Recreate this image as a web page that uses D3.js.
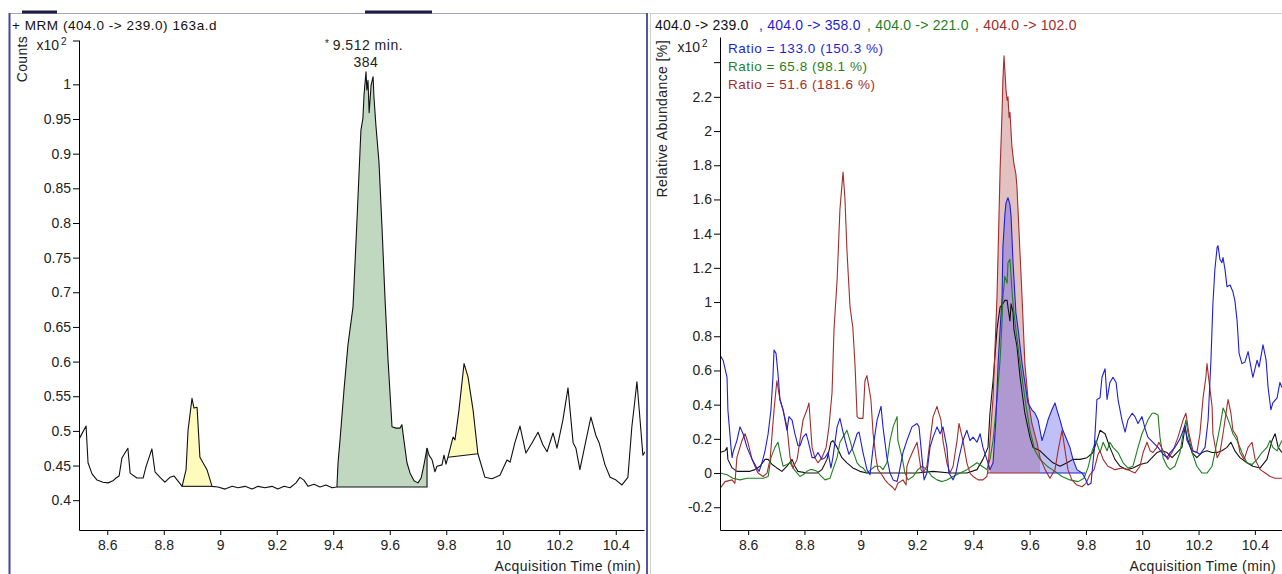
<!DOCTYPE html>
<html>
<head>
<meta charset="utf-8">
<script src="https://cdn.jsdelivr.net/npm/d3@7"></script>
<style>
  body { margin: 0; background: #fff; }
  svg { display: block; }
  text { font-family: Arial, "Liberation Sans", sans-serif; }
</style>
</head>
<body>
<svg id="chart" width="1282" height="574"></svg>
<script>
// ---- Quantifier trace, MRM 404.0 -> 239.0 (counts, x10^2) : [time (min), counts] ----
const mrm239 = [
  [8.500,0.487],[8.504,0.491],[8.525,0.507],[8.532,0.454],[8.546,0.438],[8.564,0.429],[8.585,0.426],
  [8.603,0.425],[8.620,0.428],[8.631,0.432],[8.642,0.435],[8.652,0.461],[8.673,0.475],[8.681,0.439],
  [8.705,0.432],[8.727,0.432],[8.737,0.448],[8.758,0.474],[8.769,0.441],[8.787,0.433],[8.804,0.426],
  [8.822,0.433],[8.836,0.435],[8.850,0.428],[8.865,0.420],[8.879,0.444],[8.886,0.501],[8.900,0.547],
  [8.907,0.533],[8.918,0.534],[8.928,0.462],[8.953,0.444],[8.971,0.420],[8.992,0.419],[9.017,0.416],
  [9.042,0.420],[9.063,0.418],[9.088,0.420],[9.112,0.416],[9.134,0.420],[9.158,0.418],[9.183,0.420],
  [9.204,0.416],[9.226,0.420],[9.247,0.418],[9.268,0.425],[9.282,0.433],[9.296,0.429],[9.311,0.420],
  [9.332,0.423],[9.353,0.419],[9.374,0.422],[9.396,0.418],[9.413,0.419],[9.417,0.454],[9.424,0.487],
  [9.438,0.559],[9.452,0.624],[9.470,0.679],[9.484,0.804],[9.498,0.934],[9.505,0.951],[9.509,0.985],
  [9.516,1.018],[9.519,0.992],[9.523,1.006],[9.527,0.959],[9.534,0.999],[9.541,1.011],[9.544,0.982],
  [9.551,0.941],[9.562,0.887],[9.573,0.790],[9.583,0.693],[9.594,0.602],[9.608,0.506],[9.622,0.504],
  [9.636,0.504],[9.643,0.509],[9.650,0.487],[9.661,0.454],[9.672,0.439],[9.686,0.428],[9.700,0.425],
  [9.711,0.432],[9.721,0.451],[9.732,0.475],[9.739,0.465],[9.750,0.458],[9.760,0.441],[9.767,0.449],
  [9.785,0.451],[9.792,0.465],[9.799,0.452],[9.806,0.462],[9.824,0.491],[9.831,0.487],[9.845,0.530],
  [9.863,0.597],[9.877,0.578],[9.895,0.530],[9.912,0.467],[9.937,0.433],[9.962,0.431],[9.990,0.436],
  [10.015,0.458],[10.026,0.455],[10.043,0.483],[10.061,0.507],[10.082,0.468],[10.104,0.483],[10.125,0.498],
  [10.142,0.480],[10.157,0.470],[10.178,0.497],[10.192,0.475],[10.213,0.516],[10.231,0.562],[10.249,0.483],
  [10.259,0.475],[10.273,0.444],[10.295,0.487],[10.312,0.520],[10.330,0.493],[10.341,0.483],[10.362,0.451],
  [10.380,0.433],[10.401,0.429],[10.422,0.422],[10.443,0.433],[10.457,0.506],[10.468,0.545],[10.475,0.571],
  [10.486,0.516],[10.496,0.465],[10.504,0.470]
];

// Integrated peaks on the quantifier: [start, end, baseline at start, baseline at end]
const mainPeak = [9.413, 9.732, 0.419, 0.419];
const sidePeaks = [
  [8.865, 8.971, 0.420, 0.420],
  [9.806, 9.912, 0.462, 0.467]
];
const mainPeakTime = "9.512 min.";
const mainPeakArea = "384";

// ---- Overlaid transitions, relative abundance (%, x10^2) : [time (min), abundance] ----
const rel239 = [
  [8.500,0.12],[8.518,0.13],[8.525,0.15],[8.528,0.08],[8.543,0.03],[8.560,0.01],[8.582,0.01],[8.607,0.01],
  [8.624,0.02],[8.642,0.04],[8.660,0.08],[8.671,0.08],[8.685,0.05],[8.702,0.03],[8.720,0.01],[8.738,0.04],
  [8.756,0.08],[8.766,0.04],[8.777,0.01],[8.809,0.00],[8.845,0.00],[8.862,0.02],[8.880,0.08],[8.894,0.18],
  [8.901,0.19],[8.916,0.15],[8.933,0.09],[8.951,0.06],[8.972,0.03],[8.997,0.01],[9.022,0.00],[9.079,0.00],
  [9.139,0.00],[9.200,0.00],[9.257,0.01],[9.317,0.00],[9.377,0.00],[9.413,0.02],[9.434,0.08],[9.452,0.15],
  [9.459,0.35],[9.470,0.54],[9.484,0.84],[9.495,0.97],[9.505,0.99],[9.512,1.01],[9.520,1.01],[9.523,0.97],
  [9.530,0.89],[9.534,0.99],[9.541,0.94],[9.544,0.84],[9.555,0.74],[9.566,0.56],[9.583,0.35],[9.601,0.21],
  [9.612,0.15],[9.637,0.13],[9.662,0.09],[9.683,0.06],[9.708,0.04],[9.733,0.06],[9.754,0.08],[9.779,0.08],
  [9.804,0.09],[9.825,0.12],[9.839,0.19],[9.850,0.25],[9.868,0.23],[9.885,0.15],[9.903,0.08],[9.921,0.04],
  [9.946,0.02],[9.967,0.03],[9.992,0.05],[10.017,0.06],[10.035,0.09],[10.052,0.12],[10.070,0.13],[10.088,0.12],
  [10.106,0.09],[10.123,0.12],[10.141,0.15],[10.152,0.27],[10.159,0.21],[10.177,0.12],[10.194,0.09],[10.212,0.12],
  [10.230,0.13],[10.248,0.12],[10.266,0.12],[10.283,0.13],[10.301,0.15],[10.315,0.18],[10.329,0.13],[10.347,0.09],
  [10.372,0.06],[10.393,0.04],[10.419,0.03],[10.443,0.08],[10.461,0.19],[10.472,0.23],[10.483,0.15],[10.496,0.12]
];

const rel358 = [
  [8.500,0.69],[8.511,0.66],[8.525,0.56],[8.528,0.37],[8.539,0.15],[8.543,0.09],[8.546,0.12],[8.560,0.19],
  [8.571,0.27],[8.582,0.23],[8.596,0.15],[8.614,0.08],[8.631,0.03],[8.639,0.01],[8.649,0.06],[8.660,0.13],
  [8.671,0.23],[8.681,0.37],[8.688,0.56],[8.692,0.72],[8.699,0.70],[8.706,0.58],[8.713,0.43],[8.724,0.37],
  [8.738,0.25],[8.745,0.33],[8.756,0.31],[8.766,0.23],[8.777,0.16],[8.784,0.16],[8.795,0.21],[8.806,0.23],
  [8.813,0.19],[8.827,0.09],[8.837,0.09],[8.848,0.12],[8.862,0.08],[8.873,0.09],[8.884,0.12],[8.894,0.03],
  [8.901,0.09],[8.916,0.27],[8.926,0.32],[8.937,0.24],[8.951,0.15],[8.958,0.11],[8.972,0.15],[8.987,0.23],
  [8.994,0.24],[9.008,0.12],[9.022,0.02],[9.033,-0.01],[9.044,0.15],[9.058,0.31],[9.072,0.39],[9.079,0.27],
  [9.093,0.09],[9.104,0.00],[9.115,-0.04],[9.129,-0.05],[9.136,0.00],[9.150,0.12],[9.164,0.19],[9.182,0.27],
  [9.200,0.29],[9.207,0.27],[9.218,0.08],[9.225,-0.04],[9.235,0.00],[9.246,0.15],[9.257,0.21],[9.271,0.27],
  [9.282,0.23],[9.292,0.27],[9.306,0.15],[9.313,0.00],[9.328,-0.04],[9.338,0.00],[9.349,0.09],[9.363,0.19],
  [9.377,0.25],[9.388,0.19],[9.399,0.21],[9.413,0.18],[9.424,0.23],[9.434,0.15],[9.448,0.08],[9.459,0.02],
  [9.470,0.06],[9.480,0.31],[9.488,0.64],[9.495,0.84],[9.502,1.03],[9.505,1.32],[9.512,1.51],[9.516,1.58],
  [9.523,1.61],[9.530,1.57],[9.534,1.50],[9.541,1.23],[9.551,0.94],[9.559,0.84],[9.573,0.64],[9.583,0.53],
  [9.594,0.41],[9.608,0.37],[9.619,0.35],[9.630,0.31],[9.644,0.19],[9.655,0.25],[9.665,0.31],[9.679,0.37],
  [9.690,0.41],[9.697,0.37],[9.708,0.31],[9.718,0.25],[9.733,0.19],[9.743,0.15],[9.754,0.08],[9.768,0.02],
  [9.786,0.00],[9.797,-0.03],[9.807,-0.07],[9.818,-0.06],[9.829,0.13],[9.839,0.43],[9.850,0.44],[9.857,0.56],
  [9.868,0.61],[9.875,0.43],[9.885,0.53],[9.896,0.56],[9.907,0.53],[9.914,0.43],[9.928,0.31],[9.939,0.24],
  [9.949,0.31],[9.964,0.35],[9.974,0.33],[9.985,0.29],[9.999,0.33],[10.010,0.26],[10.020,0.21],[10.038,0.18],
  [10.056,0.15],[10.074,0.11],[10.088,0.09],[10.099,0.12],[10.116,0.15],[10.134,0.20],[10.152,0.28],[10.159,0.19],
  [10.177,0.13],[10.194,0.12],[10.205,0.11],[10.223,0.15],[10.234,0.31],[10.244,0.66],[10.251,0.99],[10.258,1.19],
  [10.266,1.32],[10.269,1.33],[10.276,1.25],[10.283,1.23],[10.287,1.26],[10.294,1.19],[10.301,1.09],[10.312,1.10],
  [10.322,1.06],[10.329,1.01],[10.337,0.89],[10.344,0.70],[10.354,0.64],[10.365,0.65],[10.376,0.71],[10.386,0.62],
  [10.393,0.56],[10.408,0.66],[10.415,0.62],[10.429,0.75],[10.440,0.66],[10.447,0.50],[10.457,0.37],[10.464,0.41],
  [10.479,0.44],[10.489,0.53],[10.496,0.50]
];

const rel221 = [
  [8.500,0.00],[8.525,-0.01],[8.546,-0.03],[8.571,-0.04],[8.596,-0.03],[8.617,-0.03],[8.653,-0.03],[8.671,-0.02],
  [8.681,0.09],[8.695,0.15],[8.706,0.18],[8.717,0.09],[8.724,0.04],[8.738,0.05],[8.749,0.06],[8.759,0.03],
  [8.774,0.00],[8.784,-0.02],[8.795,-0.01],[8.809,0.01],[8.820,0.02],[8.830,0.02],[8.845,0.01],[8.855,-0.01],
  [8.873,-0.04],[8.891,-0.03],[8.901,0.02],[8.916,0.09],[8.926,0.18],[8.937,0.21],[8.951,0.25],[8.962,0.19],
  [8.972,0.13],[8.987,0.06],[8.997,0.04],[9.008,0.03],[9.022,0.00],[9.036,0.02],[9.051,0.04],[9.068,0.04],
  [9.079,0.02],[9.093,0.06],[9.104,0.19],[9.115,0.27],[9.129,0.33],[9.132,0.19],[9.147,0.09],[9.157,0.00],
  [9.168,-0.04],[9.186,-0.02],[9.203,0.02],[9.218,0.04],[9.235,0.02],[9.253,-0.02],[9.271,-0.04],[9.289,-0.05],
  [9.306,-0.04],[9.328,-0.02],[9.353,0.00],[9.377,0.02],[9.395,0.04],[9.413,0.06],[9.431,0.04],[9.448,0.02],
  [9.459,0.08],[9.470,0.19],[9.484,0.43],[9.495,0.66],[9.502,0.89],[9.505,1.03],[9.512,1.15],[9.520,1.11],
  [9.523,1.23],[9.530,1.25],[9.537,1.07],[9.541,0.99],[9.551,0.84],[9.566,0.64],[9.583,0.44],[9.601,0.25],
  [9.619,0.13],[9.637,0.08],[9.662,0.04],[9.690,0.01],[9.715,-0.02],[9.743,-0.04],[9.772,-0.05],[9.793,-0.03],
  [9.807,0.03],[9.822,0.13],[9.836,0.19],[9.850,0.12],[9.861,0.18],[9.875,0.13],[9.885,0.18],[9.896,0.15],
  [9.914,0.12],[9.932,0.06],[9.949,0.03],[9.967,0.04],[9.985,0.15],[9.999,0.23],[10.010,0.27],[10.020,0.31],
  [10.035,0.35],[10.045,0.35],[10.056,0.34],[10.063,0.21],[10.074,0.09],[10.088,0.04],[10.099,0.02],[10.116,0.04],
  [10.134,0.12],[10.145,0.23],[10.155,0.31],[10.163,0.23],[10.177,0.12],[10.194,0.04],[10.212,0.00],[10.230,0.00],
  [10.248,0.04],[10.258,0.12],[10.276,0.27],[10.287,0.38],[10.301,0.33],[10.312,0.28],[10.322,0.23],[10.337,0.19],
  [10.354,0.12],[10.372,0.06],[10.390,0.05],[10.408,0.08],[10.425,0.12],[10.443,0.15],[10.454,0.19],[10.464,0.15],
  [10.479,0.13],[10.496,0.19]
];

const rel102 = [
  [8.500,-0.09],[8.518,-0.05],[8.543,-0.04],[8.553,-0.06],[8.560,0.09],[8.578,0.19],[8.589,0.23],[8.599,0.18],
  [8.614,0.08],[8.624,0.04],[8.635,0.00],[8.653,-0.02],[8.667,0.00],[8.678,0.08],[8.692,0.37],[8.702,0.54],
  [8.713,0.43],[8.724,0.37],[8.738,0.27],[8.749,0.09],[8.759,0.03],[8.774,0.08],[8.784,0.19],[8.795,0.31],
  [8.809,0.37],[8.816,0.41],[8.827,0.15],[8.837,0.09],[8.848,0.06],[8.862,0.09],[8.877,0.15],[8.887,0.27],
  [8.898,0.47],[8.905,0.84],[8.916,1.13],[8.926,1.54],[8.937,1.76],[8.944,1.60],[8.951,1.30],[8.962,0.97],
  [8.972,0.85],[8.980,0.62],[8.987,0.33],[8.994,0.32],[9.008,0.32],[9.015,0.54],[9.022,0.57],[9.026,0.53],
  [9.036,0.43],[9.044,0.23],[9.054,0.09],[9.061,0.02],[9.075,-0.01],[9.086,-0.04],[9.097,-0.06],[9.111,-0.08],
  [9.122,-0.10],[9.132,-0.06],[9.150,-0.04],[9.161,-0.07],[9.164,0.04],[9.175,0.09],[9.186,0.13],[9.200,0.18],
  [9.214,0.02],[9.221,0.00],[9.235,0.04],[9.246,0.19],[9.257,0.33],[9.271,0.39],[9.274,0.37],[9.285,0.31],
  [9.292,0.19],[9.306,0.06],[9.317,0.00],[9.328,0.04],[9.342,0.19],[9.349,0.29],[9.363,0.19],[9.377,0.06],
  [9.388,0.00],[9.399,-0.02],[9.417,-0.04],[9.434,-0.04],[9.448,-0.02],[9.452,0.02],[9.459,0.19],[9.470,0.44],
  [9.484,1.03],[9.495,1.77],[9.502,2.11],[9.505,2.30],[9.509,2.44],[9.516,2.24],[9.520,2.18],[9.523,2.20],
  [9.527,2.08],[9.530,2.11],[9.537,1.91],[9.544,1.81],[9.551,1.75],[9.555,1.67],[9.562,1.42],[9.573,1.03],
  [9.583,0.64],[9.594,0.44],[9.608,0.29],[9.626,0.18],[9.637,0.09],[9.655,0.02],[9.672,-0.03],[9.690,0.02],
  [9.701,0.13],[9.715,0.25],[9.726,0.13],[9.736,0.02],[9.750,-0.04],[9.768,-0.07],[9.786,-0.08],[9.800,-0.06],
  [9.814,-0.01],[9.829,0.02],[9.843,0.11],[9.850,0.13],[9.861,0.08],[9.878,0.04],[9.903,0.02],[9.928,0.03],
  [9.949,0.02],[9.974,0.00],[9.992,0.04],[10.003,0.12],[10.017,0.18],[10.028,0.13],[10.038,0.12],[10.052,0.15],
  [10.059,0.18],[10.074,0.13],[10.091,0.08],[10.109,0.13],[10.127,0.21],[10.145,0.31],[10.155,0.35],[10.166,0.23],
  [10.180,0.13],[10.194,0.12],[10.205,0.23],[10.216,0.44],[10.226,0.56],[10.230,0.64],[10.237,0.54],[10.248,0.39],
  [10.251,0.23],[10.266,0.09],[10.276,0.12],[10.287,0.23],[10.301,0.39],[10.305,0.43],[10.315,0.35],[10.322,0.25],
  [10.337,0.21],[10.347,0.12],[10.362,0.08],[10.376,0.15],[10.390,0.18],[10.401,0.08],[10.419,0.02],[10.437,0.00],
  [10.454,-0.02],[10.472,-0.03],[10.496,-0.03]
];

// Integrated qualifier peaks: [start, end] with a zero baseline
const peak102 = [9.452, 9.637];
const peak358 = [9.459, 9.797];

// Transition labels and qualifier ratios
const transitions = ["404.0 -> 239.0", ", 404.0 -> 358.0", ", 404.0 -> 221.0", ", 404.0 -> 102.0"];
const ratioLabels = ["Ratio = 133.0 (150.3 %)", "Ratio = 65.8 (98.1 %)", "Ratio = 51.6 (181.6 %)"];

// Tick values
const timeTicks = [8.6, 8.8, 9, 9.2, 9.4, 9.6, 9.8, 10, 10.2, 10.4];
const countTicks = [0.4, 0.45, 0.5, 0.55, 0.6, 0.65, 0.7, 0.75, 0.8, 0.85, 0.9, 0.95, 1];
const abundTicks = [-0.2, 0, 0.2, 0.4, 0.6, 0.8, 1, 1.2, 1.4, 1.6, 1.8, 2, 2.2];
const abundExpTick = 2.4;

// ---- drawing ----
const svg = d3.select("#chart");
const COL = { blue: "#1f1fd4", green: "#1f7f1f", red: "#a32c2c", black: "#111" };
const INK = "#222";
const LS = "0.5px";   // slightly wide UI lettering

// scales
const xL = d3.scaleLinear().domain([8.5, 10.5]).range([79, 644]);
const yL = d3.scaleLinear().domain([0.357, 1.064]).range([530, 40]);
const xR = d3.scaleLinear().domain([8.5, 10.5]).range([720, 1283]);
const yR = d3.scaleLinear().domain([-0.333, 2.55]).range([530, 37]);

// panel frames
svg.append("line").attr("x1", 9).attr("x2", 648).attr("y1", 13.5).attr("y2", 13.5)
  .attr("stroke", "#a4a4c4").attr("stroke-width", 1);
svg.append("line").attr("x1", 9.5).attr("x2", 9.5).attr("y1", 13).attr("y2", 574)
  .attr("stroke", "#45459a").attr("stroke-width", 2);
svg.append("line").attr("x1", 647).attr("x2", 647).attr("y1", 13).attr("y2", 574)
  .attr("stroke", "#5555a8").attr("stroke-width", 2);
[[22, 57], [365, 432]].forEach(([a, b]) => {
  svg.append("line").attr("x1", a).attr("x2", b).attr("y1", 12).attr("y2", 12)
    .attr("stroke", "#1c1c44").attr("stroke-width", 3);
});
svg.append("line").attr("x1", 649).attr("x2", 1282).attr("y1", 13.5).attr("y2", 13.5)
  .attr("stroke", "#cfcfcf");
svg.append("line").attr("x1", 650.5).attr("x2", 650.5).attr("y1", 13).attr("y2", 574)
  .attr("stroke", "#cfcfcf");

const defs = svg.append("defs");
defs.append("clipPath").attr("id", "clipL").append("rect")
  .attr("x", 79).attr("y", 38).attr("width", 566).attr("height", 492);
defs.append("clipPath").attr("id", "clipR").append("rect")
  .attr("x", 720).attr("y", 34).attr("width", 562).attr("height", 496);

function styleAxis(g) {
  g.selectAll("text").attr("font-size", 14).attr("fill", INK)
    .attr("font-family", "Arial, 'Liberation Sans', sans-serif");
  g.selectAll("line, path").attr("stroke", "#000");
}
const fmt = d => String(d);

function label(g, x, y, txt, opts = {}) {
  return g.append("text").attr("x", x).attr("y", y)
    .attr("font-size", opts.size || 14)
    .attr("fill", opts.fill || INK)
    .attr("text-anchor", opts.anchor || "start")
    .attr("letter-spacing", opts.ls === undefined ? LS : opts.ls)
    .text(txt);
}

// ---------- left panel ----------
const left = svg.append("g");
label(left, 12, 30, "+ MRM (404.0 -> 239.0) 163a.d", { size: 13.5, fill: "#111", ls: "0.55px" });

const lineL = d3.line().x(d => xL(d[0])).y(d => yL(d[1]));
const plotL = left.append("g").attr("clip-path", "url(#clipL)");

function peakPolygon(trace, s, e, b0, b1) {
  const inside = trace.filter(d => d[0] >= s - 1e-9 && d[0] <= e + 1e-9);
  return [[s, b0], ...inside, [e, b1]];
}

sidePeaks.forEach(p => {
  const poly = peakPolygon(mrm239, p[0], p[1], p[2], p[3]);
  plotL.append("path").attr("d", lineL(poly) + "Z").attr("fill", "#fffbbd").attr("stroke", "none");
  plotL.append("path").attr("d", lineL([[p[0], p[2]], [p[1], p[3]]]))
    .attr("stroke", "#111").attr("stroke-width", 1.1).attr("fill", "none");
});
{
  const p = mainPeak;
  const poly = peakPolygon(mrm239, p[0], p[1], p[2], p[3]);
  plotL.append("path").attr("d", lineL(poly) + "Z").attr("fill", "#c0d8bf").attr("stroke", "none");
  const last = poly[poly.length - 2];
  plotL.append("path").attr("d", lineL([[p[0], p[2]], [p[1], p[3]], last]))
    .attr("stroke", "#111").attr("stroke-width", 1.1).attr("fill", "none");
}
plotL.append("path").attr("d", lineL(mrm239)).attr("fill", "none")
  .attr("stroke", COL.black).attr("stroke-width", 1.1).attr("stroke-linejoin", "round");

// axes
const axL = left.append("g").attr("transform", "translate(79,0)")
  .call(d3.axisLeft(yL).tickValues(countTicks).tickSize(6).tickPadding(2).tickSizeOuter(0).tickFormat(fmt));
styleAxis(axL);
const axLB = left.append("g").attr("transform", "translate(0,530)")
  .call(d3.axisBottom(xL).tickValues(timeTicks).tickSize(5).tickPadding(5).tickSizeOuter(0).tickFormat(fmt));
styleAxis(axLB);

// exponent marker at the top of the count axis
const topL = yL(yL.domain()[1]) + 1;
left.append("line").attr("x1", 73).attr("x2", 79).attr("y1", topL).attr("y2", topL).attr("stroke", "#000");
label(left, 59, 50, "x10", { anchor: "end", ls: 0 });
label(left, 61, 45, "2", { size: 10, ls: 0 });

left.append("text").attr("transform", "translate(27,36) rotate(-90)").attr("text-anchor", "end")
  .attr("font-size", 14).attr("fill", INK).attr("letter-spacing", "0.3px").text("Counts");
label(left, 641, 571, "Acquisition Time (min)", { anchor: "end", ls: "0.4px" });

// apex label
const apexX = xL(9.512);
label(left, apexX - 40, 47, "*", { size: 10, ls: 0 });
label(left, apexX + 3, 50, mainPeakTime, { anchor: "middle" });
label(left, apexX + 1, 67, mainPeakArea, { anchor: "middle" });

// ---------- right panel ----------
const right = svg.append("g");
const headerX = [655, 759, 867, 975];
const headerCol = [COL.black, COL.blue, COL.green, COL.red];
transitions.forEach((t, i) => {
  label(right, headerX[i], 30, t, { fill: headerCol[i], ls: "0.2px" });
});

const lineR = d3.line().x(d => xR(d[0])).y(d => yR(d[1]));
const plotR = right.append("g").attr("clip-path", "url(#clipR)");

// qualifier peak areas
const poly102 = peakPolygon(rel102, peak102[0], peak102[1], 0, 0);
plotR.append("path").attr("d", lineR(poly102) + "Z").attr("fill", "#e4c1c1");
const poly358 = peakPolygon(rel358, peak358[0], peak358[1], 0, 0);
plotR.append("path").attr("d", lineR(poly358) + "Z").attr("fill", "rgba(90,90,235,0.38)");
plotR.append("path").attr("d", lineR([[peak102[0], 0], [peak102[1], 0]]))
  .attr("stroke", COL.red).attr("stroke-width", 1.1).attr("fill", "none");
plotR.append("path").attr("d", lineR([[peak102[1], 0], [peak358[1], 0]]))
  .attr("stroke", COL.blue).attr("stroke-width", 1.1).attr("fill", "none");

[[rel239, COL.black], [rel221, COL.green], [rel102, COL.red], [rel358, COL.blue]].forEach(([tr, c]) => {
  plotR.append("path").attr("d", lineR(tr)).attr("fill", "none")
    .attr("stroke", c).attr("stroke-width", 1.1).attr("stroke-linejoin", "round");
});

const axR = right.append("g").attr("transform", "translate(720,0)")
  .call(d3.axisLeft(yR).tickValues(abundTicks).tickSize(6).tickPadding(2).tickSizeOuter(0).tickFormat(fmt));
styleAxis(axR);
const axRB = right.append("g").attr("transform", "translate(0,530)")
  .call(d3.axisBottom(xR).tickValues(timeTicks).tickSize(5).tickPadding(5).tickSizeOuter(0).tickFormat(fmt));
styleAxis(axRB);

const expY = yR(abundExpTick);
right.append("line").attr("x1", 714).attr("x2", 720).attr("y1", expY).attr("y2", expY).attr("stroke", "#000");
label(right, 700, 52, "x10", { anchor: "end", ls: 0 });
label(right, 702, 47, "2", { size: 10, ls: 0 });

right.append("text").attr("transform", "translate(667,40) rotate(-90)").attr("text-anchor", "end")
  .attr("font-size", 14).attr("fill", INK).attr("letter-spacing", "0.4px").text("Relative Abundance [%]");
label(right, 1276, 571, "Acquisition Time (min)", { anchor: "end", ls: "0.4px" });

const ratioCol = [COL.blue, COL.green, COL.red];
ratioLabels.forEach((t, i) => {
  label(right, 728, 53 + i * 18, t, { size: 13.5, fill: ratioCol[i], ls: "0.55px" });
});
</script>
</body>
</html>
